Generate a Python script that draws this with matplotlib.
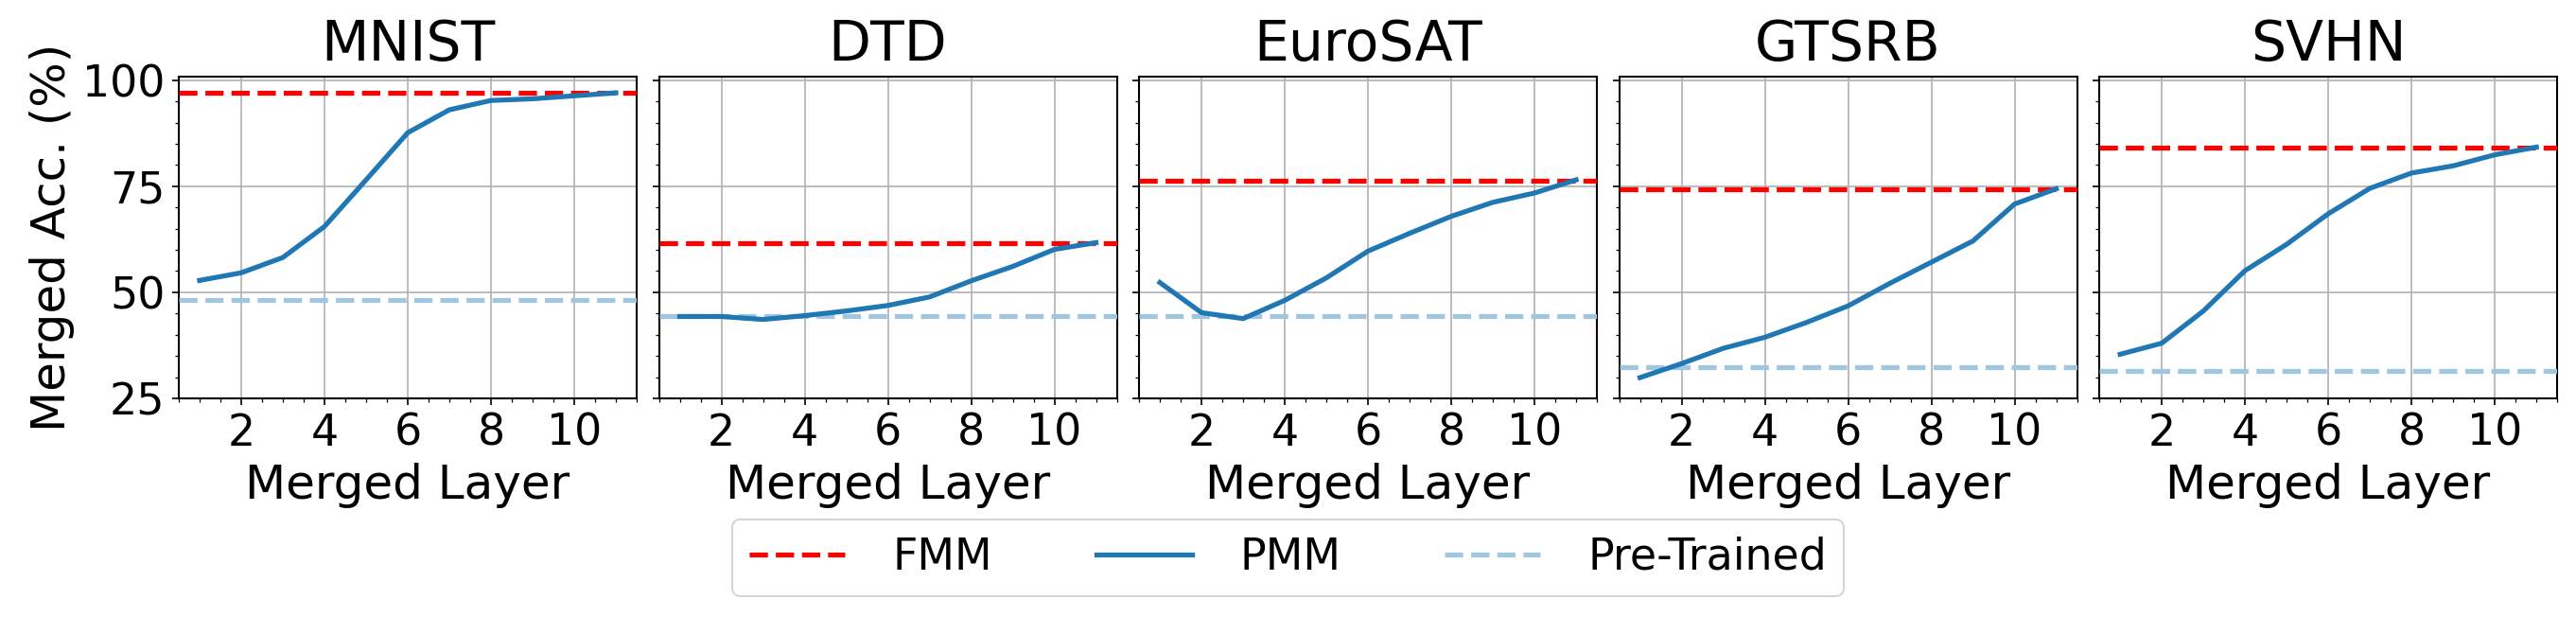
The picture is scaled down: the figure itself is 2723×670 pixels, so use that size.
import numpy as np
import matplotlib
matplotlib.use('Agg')
import matplotlib.pyplot as plt
from matplotlib.ticker import MultipleLocator

# merged layer index
layers = list(range(1, 12))

datasets = ['MNIST', 'DTD', 'EuroSAT', 'GTSRB', 'SVHN']

# accuracy of the fully merged model (FMM)
fmm = [97.0, 61.5, 76.4, 74.2, 84.0]
# accuracy of the pre-trained model
pretrained = [48.2, 44.5, 44.5, 32.4, 31.5]

# partially merged model (PMM) accuracy per merged layer
pmm_mnist = [52.8, 54.6, 58.2, 65.5, 76.5, 87.6, 93.0, 95.2, 95.6, 96.3, 97.0]
pmm_dtd = [44.3, 44.3, 43.6, 44.5, 45.6, 46.9, 48.9, 52.7, 56.1, 60.1, 61.7]
pmm_eurosat = [52.3, 45.2, 43.8, 48.1, 53.4, 59.7, 63.9, 67.9, 71.2, 73.4, 76.5]
pmm_gtsrb = [29.9, 33.2, 36.8, 39.4, 42.9, 46.8, 52.1, 57.1, 62.1, 70.8, 74.4]
pmm_svhn = [35.4, 38.0, 45.6, 55.1, 61.3, 68.5, 74.5, 78.1, 79.8, 82.4, 84.2]

pmm = [pmm_mnist, pmm_dtd, pmm_eurosat, pmm_gtsrb, pmm_svhn]

matplotlib.rcParams.update({
    'font.size': 22,
    'axes.linewidth': 1.0,
})

fig, axs = plt.subplots(1, 5, figsize=(2723 / 150, 670 / 150), dpi=150, sharey=True)
fig.subplots_adjust(left=0.0694, right=0.9927, bottom=0.3716, top=0.879, wspace=0.0486)

lw = 2.5
for i, ax in enumerate(axs):
    ax.axhline(fmm[i], color='red', linestyle='--', lw=lw, label='FMM', zorder=3)
    ax.plot(layers, pmm[i], color='#1f77b4', lw=lw, label='PMM', zorder=4)
    ax.axhline(pretrained[i], color='#a1c6e0', linestyle='--', lw=lw, label='Pre-Trained', zorder=3)
    ax.set_title(datasets[i], fontsize=28, pad=8)
    ax.set_xlabel('Merged Layer', fontsize=24)
    ax.set_xlim(0.5, 11.5)
    ax.set_ylim(25, 100.8)
    ax.xaxis.set_major_locator(MultipleLocator(2))
    ax.xaxis.set_minor_locator(MultipleLocator(0.5))
    ax.yaxis.set_major_locator(MultipleLocator(25))
    ax.yaxis.set_minor_locator(MultipleLocator(5))
    ax.tick_params(labelsize=22)
    ax.grid(True, which='major', color='#b0b0b0', lw=0.8)
    ax.set_axisbelow(True)

axs[0].set_ylabel('Merged Acc. (%)', fontsize=24)

handles, labels = axs[0].get_legend_handles_labels()
fig.legend(handles, labels, loc='lower center', bbox_to_anchor=(0.5, 0.025), ncol=3,
           fontsize=22, columnspacing=2.4, handletextpad=1.1, handlelength=2.2)

fig.savefig('out.png', dpi=150)
